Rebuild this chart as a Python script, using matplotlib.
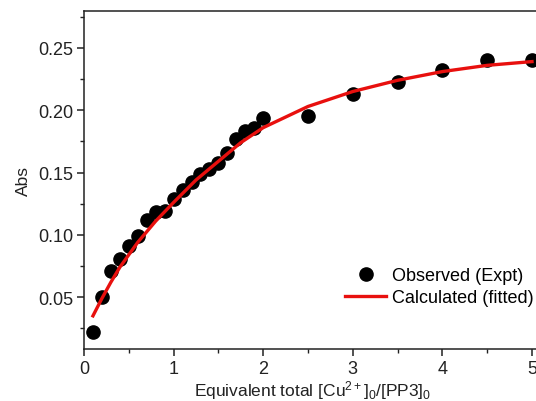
import matplotlib
matplotlib.use("Agg")
import matplotlib.pyplot as plt
from matplotlib.ticker import MultipleLocator

plt.rcParams['font.family'] = ['Liberation Sans', 'DejaVu Sans']
plt.rcParams['mathtext.fontset'] = 'custom'
plt.rcParams['mathtext.rm'] = 'Liberation Sans'
plt.rcParams['mathtext.it'] = 'Liberation Sans:italic'

# Observed data
obs_x = [0.1, 0.2, 0.3, 0.4, 0.5, 0.6, 0.7, 0.8, 0.9, 1.0, 1.1, 1.2, 1.3, 1.4,
         1.5, 1.6, 1.7, 1.8, 1.9, 2.0, 2.5, 3.0, 3.5, 4.0, 4.5, 5.0]
obs_y = [0.022, 0.050, 0.071, 0.081, 0.091, 0.099, 0.112, 0.118, 0.119, 0.129,
         0.136, 0.142, 0.149, 0.153, 0.158, 0.166, 0.177, 0.183, 0.186, 0.194,
         0.195, 0.213, 0.223, 0.232, 0.240, 0.240]

# Fitted curve
fit_x = [0.1, 0.2, 0.3, 0.4, 0.5, 0.6, 0.8, 1.0, 1.25, 1.5, 1.75, 2.0, 2.5,
         3.0, 3.5, 4.0, 4.5, 5.0]
fit_y = [0.035, 0.049, 0.062, 0.074, 0.084, 0.094, 0.111, 0.126, 0.144, 0.159,
         0.174, 0.186, 0.203, 0.215, 0.224, 0.231, 0.236, 0.239]

fig = plt.figure(figsize=(5.36, 4.02), dpi=100)
ax = fig.add_axes([84/536, 1-350/402, 482/536, (350-12)/402])

ax.plot(obs_x, obs_y, 'o', color='black', markersize=9.5, label='Observed (Expt)', zorder=3)
ax.plot(fit_x, fit_y, '-', color='#e8100e', linewidth=2.4, label='Calculated (fitted)', zorder=4)

ax.set_xlim(0, 482/89.6)
ax.set_ylim(0.0084, 0.2796)
ax.xaxis.set_major_locator(MultipleLocator(1))
ax.xaxis.set_minor_locator(MultipleLocator(0.5))
ax.yaxis.set_minor_locator(MultipleLocator(0.025))
ax.set_yticks([0.05, 0.10, 0.15, 0.20, 0.25])
ax.set_yticklabels(['0.05', '0.10', '0.15', '0.20', '0.25'])

ax.tick_params(which='major', direction='out', length=5, width=1.1, labelsize=13, pad=3, colors='#222222')
ax.tick_params(which='minor', direction='out', length=3, width=1.0, colors='#222222')
for s in ax.spines.values():
    s.set_linewidth(1.1)
    s.set_color('#222222')
ax.spines['right'].set_visible(False)

ax.set_ylabel('Abs', fontsize=12.5, color='#222222', labelpad=5)
ax.set_xlabel('Equivalent total [Cu$^{2+}$]$_0$/[PP3]$_0$', fontsize=12.5, color='#222222', labelpad=1)
ax.xaxis.label.set_position(((313-84)/482, 0))

leg = ax.legend(loc='lower right', bbox_to_anchor=(546/536, 1-320/402),
                bbox_transform=fig.transFigure, frameon=False, fontsize=13,
                handlelength=2.3, handletextpad=0.3, labelspacing=0.3, borderpad=0.2)

fig.savefig('out.png', dpi=100)
